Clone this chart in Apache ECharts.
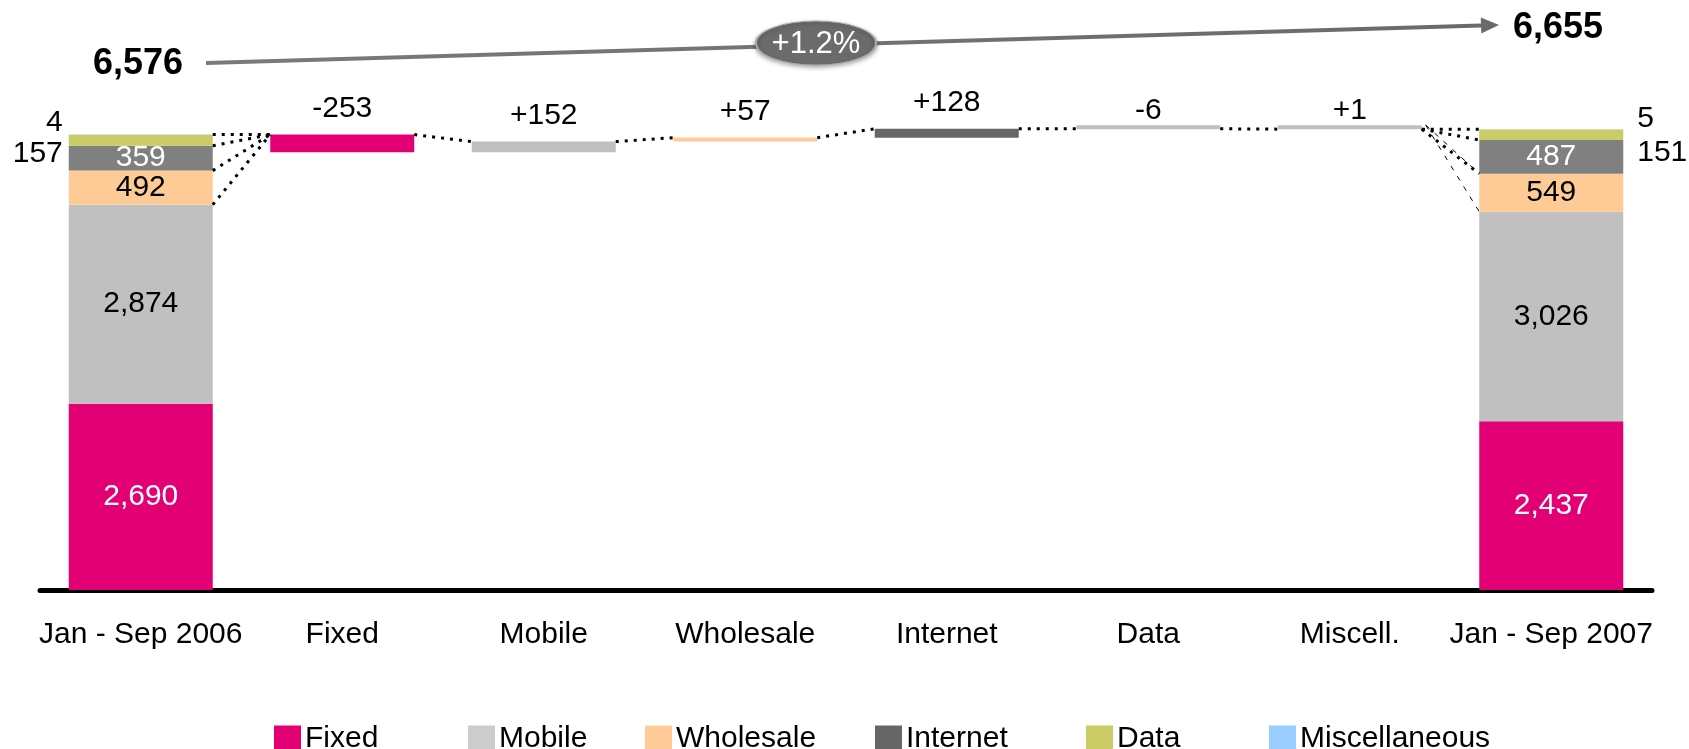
<!DOCTYPE html>
<html><head><meta charset="utf-8">
<script src="https://cdn.jsdelivr.net/npm/echarts@6/dist/echarts.min.js"></script>
<style>html,body{margin:0;padding:0;background:#fff}#c{width:1689px;height:749px}</style>
</head><body><div id="c"></div><script>
const categories = ['Jan - Sep 2006','Fixed','Mobile','Wholesale','Internet','Data','Miscell.','Jan - Sep 2007'];
const segmentNames = ['Fixed','Mobile','Wholesale','Internet','Data','Miscellaneous'];
const values2006 = [2690, 2874, 492, 359, 157, 4];
const values2007 = [2437, 3026, 549, 487, 151, 5];
const changes = [-253, 152, 57, 128, -6, 1];
const growthLabel = '+1.2%';

const FONT = '"Liberation Sans Narrow","Liberation Sans",Arial,sans-serif';
const FS = 30;
const segColors = ['#e20074','#c0c0c0','#fecb96','#808080','#cccc66','#99ccff'];
const legendColors = ['#e20074','#cccccc','#ffcc99','#666666','#cccc66','#99ccff'];
const changeColors = ['#e20074','#c0c0c0','#ffcc99','#666666','#c0c0c0','#c0c0c0'];
const fmt = v => Math.abs(v).toLocaleString('en-US');
const sum = a => a.reduce((s,v)=>s+v,0);
const total2006 = sum(values2006), total2007 = sum(values2007);

// waterfall bases
const bases = [], heights = [], tops = [];
let run = total2006;
changes.forEach(c => { const e = run + c; bases.push(Math.min(run,e)); heights.push(Math.abs(c)); tops.push(Math.max(run,e)); run = e; });

const labelInside = [
  {color:'#fff'},{color:'#000'},{color:'#000'},{color:'#fff'}
];
const outsideLeft = [null,null,null,null,{offset:[0,13]},{offset:[0,-12]}];
const outsideRight = [null,null,null,null,{offset:[0,18]},{offset:[0,-11]}];

const series = [];
series.push({
  name:'base', type:'bar', stack:'a', barWidth:144, silent:true,
  itemStyle:{color:'rgba(0,0,0,0)'},
  data:['-', ...bases, '-']
});
segmentNames.forEach((n,i)=>{
  const mk = (v, side) => {
    const o = {value:v};
    if (i < 4) {
      o.label = {show:true, position:'inside', color:labelInside[i].color};
    } else {
      const cfg = side === 'L' ? outsideLeft[i] : outsideRight[i];
      o.label = {show:true, position: side==='L' ? 'left':'right', distance: side==='L'?6:14, offset:cfg.offset, color:'#000'};
    }
    return o;
  };
  series.push({
    name:n, type:'bar', stack:'a', barWidth:144,
    itemStyle:{color:segColors[i]},
    label:{show:true, fontFamily:FONT, fontSize:FS, formatter:p=>fmt(p.value)},
    data:[mk(values2006[i],'L'), '-','-','-','-','-','-', mk(values2007[i],'R')]
  });
});
series.push({
  name:'change', type:'bar', stack:'a', barWidth:144, barMinHeight:4,
  label:{show:true, position:'top', fontFamily:FONT, fontSize:FS, color:'#000'},
  data:['-', ...heights.map((h,k)=>({
    value:h, itemStyle:{color:changeColors[k]},
    label:{distance: h < 10 ? -1 : 11, formatter: (changes[k] > 0 ? '+' : '') + changes[k]}
  })), '-']
});

const legendX = [269, 463, 640, 870, 1081, 1264];
const legends = segmentNames.map((n,i)=>({
  left: legendX[i], top: 719, itemWidth:27, itemHeight:27, icon:'rect',
  selectedMode:false,
  textStyle:{fontFamily:FONT, fontSize:FS, color:'#000', padding:[0,0,0,-1]},
  data:[{name:n, itemStyle:{color:legendColors[i]}}]
}));

const chart = echarts.init(document.getElementById('c'), null, {renderer:'canvas'});
chart.setOption({
  animation:false,
  backgroundColor:'#fff',
  grid:{left:40, right:37, top:36, bottom:159},
  legend: legends,
  xAxis:{type:'category', data:categories,
    axisLine:{lineStyle:{color:'#000', width:5, cap:'round'}},
    axisTick:{show:false},
    axisLabel:{fontFamily:FONT, fontSize:FS, color:'#000', margin:30, interval:0}},
  yAxis:{type:'value', min:0, max:8000, show:false, splitLine:{show:false}},
  series
});

// decorative connectors and annotation, positioned through the chart's own scales
const px = (c,v) => chart.convertToPixel({xAxisIndex:0, yAxisIndex:0}, [c, v]);
const half = 72;
const g = [];
const dotted = (x1,y1,x2,y2) => g.push({type:'line', z:5, shape:{x1,y1,x2,y2}, style:{stroke:'#000', lineWidth:3, lineDash:[3,6]}});
const thin = (x1,y1,x2,y2) => g.push({type:'line', z:5, shape:{x1,y1,x2,y2}, style:{stroke:'#000', lineWidth:1, lineDash:[5,7]}});

const cum = arr => { const r=[]; let s=0; arr.forEach(v=>{s+=v; r.push(s);}); return r; };
const c06 = cum(values2006), c07 = cum(values2007);
// left fan
const fx = px(1, tops[0])[0] - half, fy = px(1, tops[0])[1];
[total2006, c06[3], c06[2], c06[1]].forEach(b => { const p = px(0,b); dotted(p[0]+half, p[1], fx, fy); });
// between waterfall bars
for (let k=0;k<5;k++){
  const a = px(k+1, tops[k]), b = px(k+2, tops[k+1]);
  dotted(a[0]+half, a[1], b[0]-half, b[1]);
}
// right fan
const m = px(6, tops[5]); const mx = m[0]+half, my = m[1];
[total2007, c07[3], c07[2]].forEach(b => { const p = px(7,b); dotted(mx, my, p[0]-half, p[1]); });
[c07[2], c07[1]].forEach(b => { const p = px(7,b); thin(mx+4, my-4, p[0]-half, p[1]); });

// growth arrow
const ax1 = 206, ay1 = 63, ax2 = 1499, ay2 = 25;
const ang = Math.atan2(ay2-ay1, ax2-ax1), L = 18, W = 8;
const bx = ax2 - L*Math.cos(ang), by = ay2 - L*Math.sin(ang);
g.push({type:'line', z:6, shape:{x1:ax1,y1:ay1,x2:bx,y2:by},
  style:{stroke:new echarts.graphic.LinearGradient(0,0,1,0,[{offset:0,color:'#7a7a7a'},{offset:1,color:'#6a6a6a'}]), lineWidth:4}});
g.push({type:'polygon', z:6, shape:{points:[[ax2,ay2],[bx - W*Math.sin(ang), by + W*Math.cos(ang)],[bx + W*Math.sin(ang), by - W*Math.cos(ang)]]}, style:{fill:'#6a6a6a'}});
g.push({type:'circle', z:7, x:816, y:43, scaleX:60/22, shape:{cx:0, cy:0, r:22},
  style:{fill:'#6b6b6b', stroke:'#a8a8a8', lineWidth:0.8, shadowBlur:4, shadowColor:'rgba(0,0,0,0.35)', shadowOffsetY:2}});
g.push({type:'text', z:8, x:816, y:44, style:{text:growthLabel, fill:'#fff', font:'31px ' + FONT, align:'center', verticalAlign:'middle'}});
g.push({type:'text', z:8, x:183, y:64, style:{text:total2006.toLocaleString('en-US'), fill:'#000', font:'bold 36px ' + FONT, align:'right', verticalAlign:'middle'}});
g.push({type:'text', z:8, x:1513, y:28, style:{text:total2007.toLocaleString('en-US'), fill:'#000', font:'bold 36px ' + FONT, align:'left', verticalAlign:'middle'}});

chart.setOption({graphic:{elements:g}});
</script></body></html>
